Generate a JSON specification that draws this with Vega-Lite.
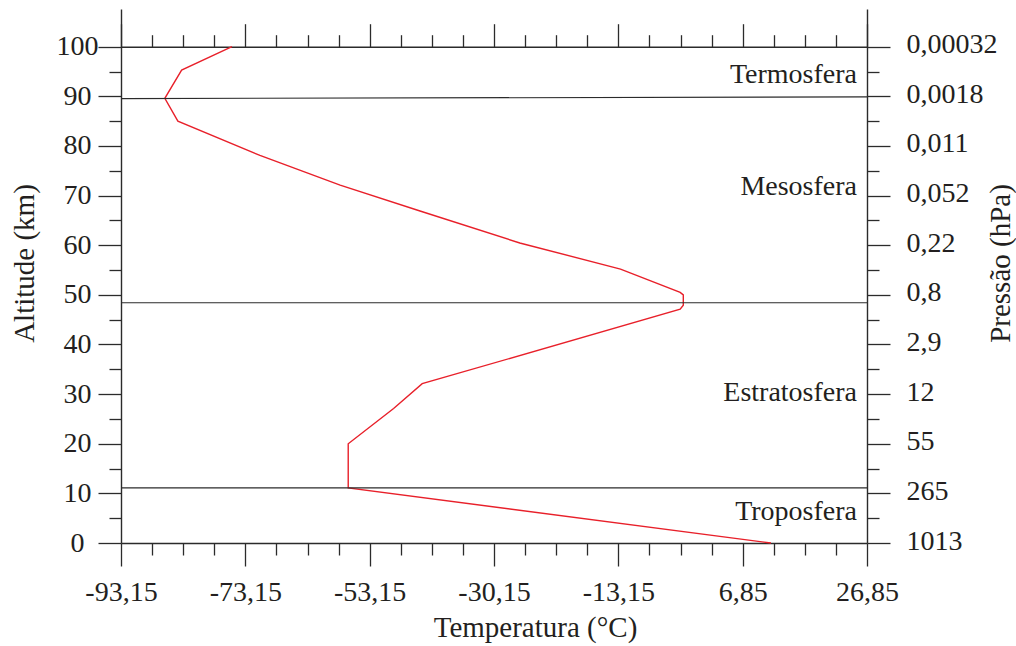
{
  "$schema": "https://vega.github.io/schema/vega-lite/v6.json",
  "width": 746,
  "height": 534,
  "autosize": {"type": "none"},
  "padding": {"left": 121, "top": 9, "right": 149, "bottom": 103},
  "background": "white",
  "config": {
    "view": {"stroke": null},
    "font": "Liberation Serif",
    "axis": {
      "grid": false,
      "domainColor": "#2b2b2b",
      "domainWidth": 1.4,
      "tickColor": "#2b2b2b",
      "tickWidth": 1.3,
      "labelFont": "Liberation Serif",
      "labelFontSize": 28,
      "labelColor": "#231f20",
      "labelFlush": false,
      "labelOverlap": false,
      "labelBound": false,
      "titleFont": "Liberation Serif",
      "titleFontSize": 29,
      "titleFontWeight": "normal",
      "titleColor": "#231f20"
    }
  },
  "datasets": {
    "profile": [
      {"T": 11.4, "h": 0},
      {"T": -56.6, "h": 11.1},
      {"T": -56.6, "h": 20},
      {"T": -49.3, "h": 27.1},
      {"T": -44.7, "h": 32.1},
      {"T": -3.2, "h": 47.1},
      {"T": -2.7, "h": 47.9},
      {"T": -2.7, "h": 50.0},
      {"T": -3.2, "h": 50.5},
      {"T": -12.8, "h": 55.2},
      {"T": -29.0, "h": 60.45},
      {"T": -45.05, "h": 66.9},
      {"T": -57.9, "h": 72.1},
      {"T": -70.8, "h": 78.1},
      {"T": -84.0, "h": 85.0},
      {"T": -86.1, "h": 89.6},
      {"T": -83.4, "h": 95.3},
      {"T": -75.3, "h": 100}
    ],
    "bounds": [
      {"x1": -93.15, "x2": 26.85, "y1": 11.1, "y2": 11.1},
      {"x1": -93.15, "x2": 26.85, "y1": 48.4, "y2": 48.4}
    ],
    "mesopause": [
      {"x1": -93.15, "x2": 26.85, "y1": 89.55, "y2": 89.9}
    ],
    "names": [
      {"label": "Termosfera", "T": 26.85, "h": 94.4},
      {"label": "Mesosfera", "T": 26.85, "h": 71.7},
      {"label": "Estratosfera", "T": 26.85, "h": 30.2},
      {"label": "Troposfera", "T": 26.85, "h": 6.2}
    ]
  },
  "layer": [
    {
      "data": {"name": "profile"},
      "mark": {"type": "line", "color": "#e8202a", "strokeWidth": 1.4},
      "encoding": {
        "x": {
          "field": "T", "type": "quantitative",
          "scale": {"domain": [-93.15, 26.85], "nice": false, "zero": false},
          "axis": {
            "orient": "bottom",
            "values": [-93.15, -73.15, -53.15, -33.15, -13.15, 6.85, 26.85],
            "labelExpr": "datum.value < -33 && datum.value > -34 ? '-30,15' : replace(replace(format(datum.value, '.2f'), '.', ','), '\u2212', '-')",
            "tickSize": 23,
            "labelPadding": 12,
            "labelBaseline": "top",
            "labelAlign": "center",
            "title": "Temperatura (°C)",
            "titleX": 414,
            "titleY": 93,
            "titleAlign": "center",
            "titleBaseline": "alphabetic"
          }
        },
        "y": {
          "field": "h", "type": "quantitative",
          "scale": {"domain": [0, 107.6], "nice": false, "zero": false},
          "axis": {
            "orient": "left",
            "values": [0, 10, 20, 30, 40, 50, 60, 70, 80, 90, 100],
            "tickSize": 23,
            "labelAlign": "center",
            "labelBaseline": "middle",
            "labelPadding": 21,
            "title": "Altitude (km)",
            "titleAngle": 270,
            "titleX": -88,
            "titleY": 254,
            "titleAlign": "center",
            "titleBaseline": "alphabetic"
          }
        },
        "order": {"field": "h", "type": "quantitative"}
      }
    },
    {
      "data": {"name": "bounds"},
      "mark": {"type": "rule", "color": "#2b2b2b", "strokeWidth": 1.1},
      "encoding": {
        "x": {
          "field": "x1", "type": "quantitative",
          "scale": {"domain": [-93.15, 26.85], "nice": false, "zero": false},
          "axis": {
            "orient": "bottom",
            "values": [-88.15, -83.15, -78.15, -68.15, -63.15, -58.15, -48.15, -43.15, -38.15, -28.15, -23.15, -18.15, -8.15, -3.15, 1.85, 11.85, 16.85, 21.85],
            "tickSize": 12,
            "labels": false,
            "domain": false,
            "title": null
          }
        },
        "x2": {"field": "x2"},
        "y": {
          "field": "y1", "type": "quantitative",
          "scale": {"domain": [0, 107.6], "nice": false, "zero": false},
          "axis": {
            "orient": "left",
            "values": [5, 15, 25, 35, 45, 55, 65, 75, 85, 95],
            "tickSize": 12,
            "labels": false,
            "domain": false,
            "title": null
          }
        },
        "y2": {"field": "y2"}
      }
    },
    {
      "data": {"name": "names"},
      "mark": {"type": "text", "align": "right", "baseline": "middle", "dx": -10, "fontSize": 28, "font": "Liberation Serif", "color": "#231f20"},
      "encoding": {
        "x": {
          "field": "T", "type": "quantitative",
          "scale": {"domain": [-93.15, 26.85], "nice": false, "zero": false},
          "axis": {
            "orient": "top",
            "offset": -37.7,
            "values": [-93.15, -73.15, -53.15, -33.15, -13.15, 6.85, 26.85],
            "tickSize": 23,
            "labels": false,
            "domain": true,
            "title": null
          }
        },
        "y": {
          "field": "h", "type": "quantitative",
          "scale": {"domain": [0, 107.6], "nice": false, "zero": false},
          "axis": {
            "orient": "right",
            "values": [0, 10, 20, 30, 40, 50, 60, 70, 80, 90, 100],
            "tickSize": 23,
            "labelExpr": "['1013','265','55','12','2,9','0,8','0,22','0,052','0,011','0,0018','0,00032'][round(datum.value / 10)]",
            "labelAlign": "left",
            "labelBaseline": "middle",
            "labelPadding": 16,
            "labelOffset": -2,
            "title": "Pressão (hPa)",
            "titleAngle": 270,
            "titleX": 142,
            "titleY": 254,
            "titleAlign": "center",
            "titleBaseline": "alphabetic"
          }
        },
        "text": {"field": "label"}
      }
    },
    {
      "data": {"name": "mesopause"},
      "mark": {"type": "rule", "color": "#2b2b2b", "strokeWidth": 1.1},
      "encoding": {
        "x": {
          "field": "x1", "type": "quantitative",
          "scale": {"domain": [-93.15, 26.85], "nice": false, "zero": false},
          "axis": {
            "orient": "top",
            "offset": -37.7,
            "values": [-88.15, -83.15, -78.15, -68.15, -63.15, -58.15, -48.15, -43.15, -38.15, -28.15, -23.15, -18.15, -8.15, -3.15, 1.85, 11.85, 16.85, 21.85],
            "tickSize": 12,
            "labels": false,
            "domain": false,
            "title": null
          }
        },
        "x2": {"field": "x2"},
        "y": {
          "field": "y1", "type": "quantitative",
          "scale": {"domain": [0, 107.6], "nice": false, "zero": false},
          "axis": {
            "orient": "right",
            "values": [5, 15, 25, 35, 45, 55, 65, 75, 85, 95],
            "tickSize": 12,
            "labels": false,
            "domain": false,
            "title": null
          }
        },
        "y2": {"field": "y2"}
      }
    }
  ],
  "resolve": {"axis": {"x": "independent", "y": "independent"}}
}
